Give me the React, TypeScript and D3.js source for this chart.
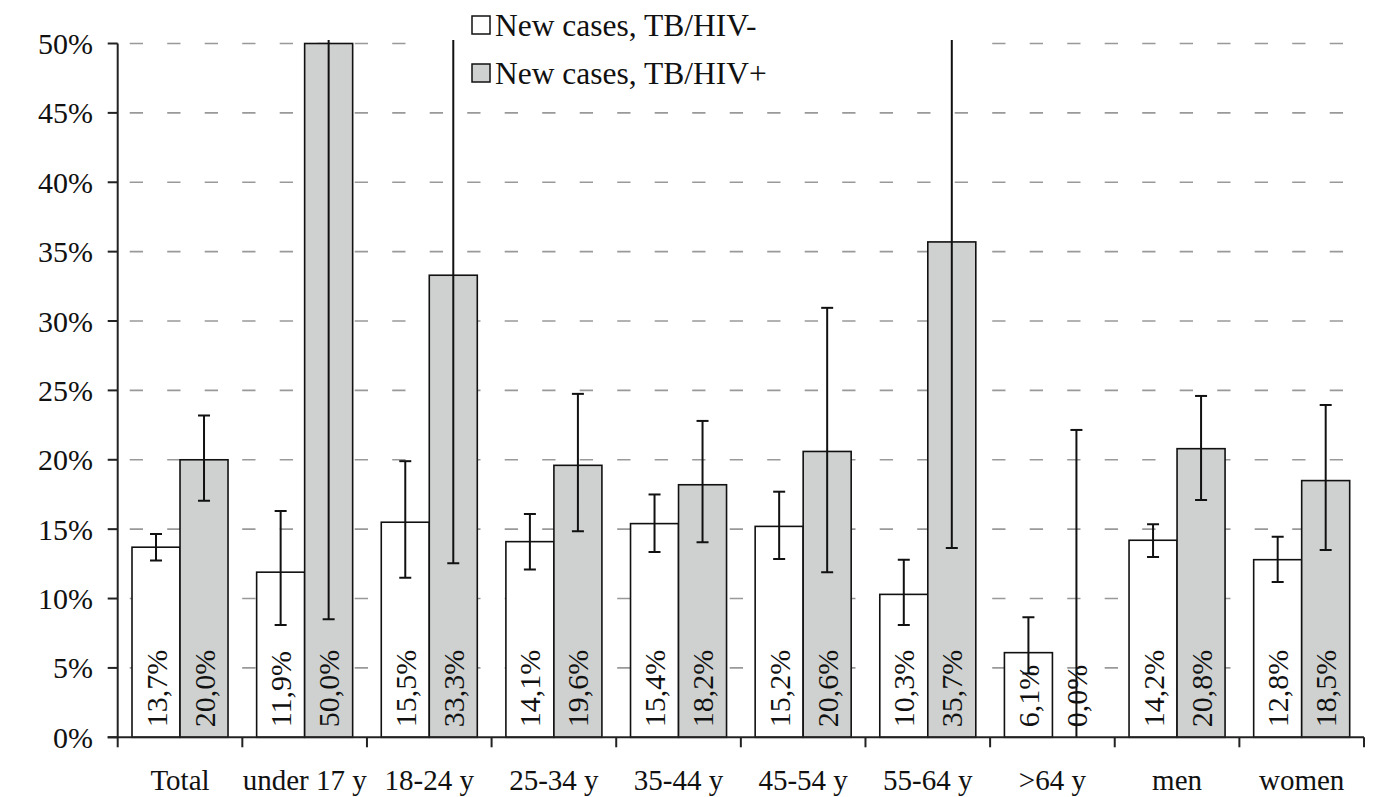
import React from "react";
import * as d3 from "d3";

// Share of new TB cases by group, HIV-negative vs HIV-positive, with confidence intervals (%)
const categories = ["Total", "under 17 y", "18-24 y", "25-34 y", "35-44 y", "45-54 y", "55-64 y", ">64 y", "men", "women"];
const hivNeg = [13.7, 11.9, 15.5, 14.1, 15.4, 15.2, 10.3, 6.1, 14.2, 12.8];
const hivNegLow = [12.75, 8.1, 11.5, 12.1, 13.35, 12.85, 8.1, 4.6, 13.0, 11.2];
const hivNegHigh = [14.65, 16.3, 19.9, 16.1, 17.5, 17.7, 12.8, 8.65, 15.35, 14.45];
const hivPos = [20.0, 50.0, 33.3, 19.6, 18.2, 20.6, 35.7, 0.0, 20.8, 18.5];
const hivPosLow = [17.05, 8.5, 12.55, 14.85, 14.05, 11.9, 13.65, 0.0, 17.1, 13.5];
const hivPosHigh = [23.2, 91.5, 54.0, 24.75, 22.8, 30.95, 57.7, 22.15, 24.6, 23.95];
const yTicks = [0, 5, 10, 15, 20, 25, 30, 35, 40, 45, 50];
const seriesNames = ["New cases, TB/HIV-", "New cases, TB/HIV+"];

const W = 1385;
const H = 797;
const FONT = '"Liberation Serif"';
const GREY = "#cfd1d0";

export default function App() {
  const left = 117.7;
  const right = 1364;
  const top = 43.5;
  const bottom = 737.3;

  const x0 = d3.scaleBand<string>().domain(categories).range([left, right]).padding(0);
  const x1 = d3
    .scaleBand<string>()
    .domain(["neg", "pos"])
    .range([0, x0.bandwidth()])
    .paddingInner(0)
    .paddingOuter(0.298);
  const y = d3.scaleLinear().domain([0, 50]).range([bottom, top]);

  const fmt = d3.format(".1f");
  const label = (v: number) => fmt(v).replace(".", ",") + "%";

  const series = [
    { key: "neg", values: hivNeg, low: hivNegLow, high: hivNegHigh, fill: "#ffffff" },
    { key: "pos", values: hivPos, low: hivPosLow, high: hivPosHigh, fill: GREY },
  ];

  const bw = x1.bandwidth();
  const groupTicks = [...categories.map((c) => x0(c) as number), right];
  const txt = { fontFamily: FONT };

  return (
    <svg width={W} height={H} style={{ position: "absolute", left: 0, top: 0, background: "#fff" }}>
      <defs>
        <clipPath id="plotClip">
          <rect x={left - 5} y={top - 3.5} width={right - left + 10} height={bottom - top + 20} />
        </clipPath>
      </defs>

      {/* horizontal dashed gridlines */}
      {yTicks
        .filter((t) => t > 0)
        .map((t) => (
          <line
            key={"g" + t}
            x1={left}
            x2={right}
            y1={y(t)}
            y2={y(t)}
            stroke="#999"
            strokeWidth={1.6}
            strokeDasharray="13.3,24.2"
            strokeDashoffset={-12}
          />
        ))}

      {/* legend background */}
      <rect x={427} y={0} width={543} height={50} fill="#fff" />

      {/* bars */}
      {series.map((s) =>
        categories.map((c, i) => {
          const bx = (x0(c) as number) + (x1(s.key) as number);
          const v = s.values[i];
          if (v <= 0) return null;
          return (
            <rect
              key={s.key + c}
              x={bx}
              y={y(v)}
              width={bw}
              height={y(0) - y(v)}
              fill={s.fill}
              stroke="#111"
              strokeWidth={1.6}
            />
          );
        })
      )}

      {/* error bars */}
      <g clipPath="url(#plotClip)" stroke="#111" strokeWidth={2}>
        {series.map((s) =>
          categories.map((c, i) => {
            const cx = (x0(c) as number) + (x1(s.key) as number) + bw / 2;
            const yl = y(s.low[i]);
            const yh = y(s.high[i]);
            return (
              <g key={"e" + s.key + c}>
                <line x1={cx} x2={cx} y1={yh} y2={yl} />
                <line x1={cx - 6} x2={cx + 6} y1={yh} y2={yh} />
                {s.low[i] > 0 && <line x1={cx - 6} x2={cx + 6} y1={yl} y2={yl} />}
              </g>
            );
          })
        )}
      </g>

      {/* value labels, rotated */}
      {series.map((s) =>
        categories.map((c, i) => {
          const cx = (x0(c) as number) + (x1(s.key) as number) + bw / 2;
          const ty = bottom - 10;
          return (
            <text
              key={"v" + s.key + c}
              transform={`translate(${cx},${ty}) rotate(-90)`}
              style={txt}
              fontSize={30}
              dy="0.35em"
              textAnchor="start"
              fill="#111"
            >
              {label(s.values[i])}
            </text>
          );
        })
      )}

      {/* y axis */}
      <line x1={left} x2={left} y1={top} y2={bottom} stroke="#222" strokeWidth={2} />
      {yTicks.map((t) => (
        <g key={"yt" + t}>
          <line x1={left - 10} x2={left} y1={y(t)} y2={y(t)} stroke="#222" strokeWidth={2} />
          <text x={93} y={y(t)} dy="0.35em" textAnchor="end" fontSize={30} fill="#111" style={txt}>
            {t + "%"}
          </text>
        </g>
      ))}

      {/* x axis */}
      <line x1={left - 10} x2={right} y1={bottom} y2={bottom} stroke="#222" strokeWidth={2} />
      {groupTicks.map((gx, i) => (
        <line key={"xt" + i} x1={gx} x2={gx} y1={bottom} y2={bottom + 10} stroke="#222" strokeWidth={2} />
      ))}
      {categories.map((c) => (
        <text
          key={"xl" + c}
          x={(x0(c) as number) + x0.bandwidth() / 2}
          y={790}
          textAnchor="middle"
          fontSize={29}
          fill="#111"
          style={txt}
        >
          {c}
        </text>
      ))}

      {/* legend */}
      {seriesNames.map((name, i) => (
        <g key={"lg" + i} transform={`translate(472,${25 + i * 48})`}>
          <rect x={0} y={-9} width={18} height={18} fill={series[i].fill} stroke="#111" strokeWidth={1.5} />
          <text x={23} y={0} dy="0.35em" fontSize={31.5} fill="#111" style={txt}>
            {name}
          </text>
        </g>
      ))}
    </svg>
  );
}
